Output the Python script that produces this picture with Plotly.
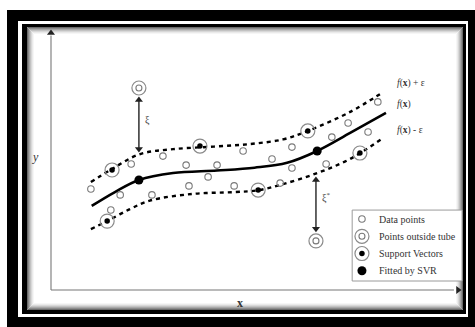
import plotly.graph_objects as go

W, H = 475, 327

# Regression function f(x)
f_x = [1.00, 1.57, 2.16, 3.00, 4.08, 5.00, 5.80, 6.54, 7.35, 8.23]
f_y = [3.27, 3.81, 4.28, 4.55, 4.65, 4.76, 4.95, 5.41, 6.11, 6.89]

# Upper tube edge f(x) + eps
up_x = [0.98, 1.50, 2.19, 3.00, 4.00, 4.89, 5.70, 6.31, 7.35, 8.13]
up_y = [4.20, 4.71, 5.29, 5.48, 5.58, 5.68, 5.86, 6.19, 6.93, 7.67]

# Lower tube edge f(x) - eps
lo_x = [0.98, 1.38, 1.94, 2.43, 3.49, 4.50, 5.09, 5.70, 6.54, 7.35, 8.13]
lo_y = [2.37, 2.68, 3.15, 3.48, 3.74, 3.81, 3.88, 4.12, 4.55, 5.10, 5.88]

# Ordinary data points inside the tube
data_x = [0.98, 1.97, 2.75, 1.70, 1.47, 3.32, 4.08, 3.86, 3.39, 2.48, 4.50,
          4.72, 5.92, 6.90, 7.30, 5.43, 5.92, 6.76, 5.63, 8.03, 7.79]
data_y = [3.93, 4.90, 5.21, 3.70, 3.11, 4.86, 4.86, 4.40, 4.05, 3.70, 4.05,
          5.41, 5.56, 5.95, 6.50, 5.10, 4.75, 4.90, 4.16, 7.32, 6.15]

# Support vectors (on the tube boundary)
sv_x = [1.50, 1.38, 3.66, 5.09, 6.31, 7.59]
sv_y = [4.67, 2.68, 5.60, 3.89, 6.19, 5.33]

# Points lying outside the tube
out_x = [2.16, 6.51]
out_y = [7.86, 1.91]

# Points fitted by SVR
fit_x = [2.16, 6.54]
fit_y = [4.28, 5.41]

# Slack arrows: x, top, bottom, label position, label
slack_x = [2.16, 6.51]
slack_top = [7.51, 4.40]
slack_bot = [5.37, 2.26]
slack_lbl_x = [2.38, 6.76]
slack_lbl_y = [6.61, 3.58]
slack_lbl = ["ξ", "ξ<sup>*</sup>"]

# Curve labels
curve_lbl = ["<i>f</i>(<b>x</b>) + ε", "<i>f</i>(<b>x</b>)", "<i>f</i>(<b>x</b>) - ε"]
curve_lbl_y = [8.05, 7.20, 6.19]
curve_lbl_x = 8.45

legend_labels = ["Data points", "Points outside tube", "Support Vectors", "Fitted by SVR"]

SERIF = "Liberation Serif"
RING = "#8a8a8a"
AXIS = "#777777"

fig = go.Figure()

def marks(xs, ys, symbol, size, color, width=0):
    fig.add_trace(go.Scatter(x=xs, y=ys, mode="markers",
                             marker=dict(symbol=symbol, size=size, color=color,
                                         line=dict(width=width, color=color)),
                             hoverinfo="skip", showlegend=False, cliponaxis=False))

def segment(x0, y0, x1, y1, color, width):
    fig.add_trace(go.Scatter(x=[x0, x1], y=[y0, y1], mode="lines",
                             line=dict(color=color, width=width),
                             hoverinfo="skip", showlegend=False, cliponaxis=False))

# coordinate axes with arrowheads
segment(0, 0, 9.9, 0, AXIS, 1.1)
segment(0, 0, 0, 9.9, AXIS, 1.1)
marks([10], [0], "triangle-right", 7, "#222")
marks([0], [10], "triangle-up", 7, "#222")

# tube edges
for xs, ys in [(up_x, up_y), (lo_x, lo_y)]:
    fig.add_trace(go.Scatter(x=xs, y=ys, mode="lines", line_shape="spline",
                             line=dict(color="black", width=2.4, dash="4px,4px"),
                             hoverinfo="skip", showlegend=False))
# regression curve
fig.add_trace(go.Scatter(x=f_x, y=f_y, mode="lines", line_shape="spline",
                         line=dict(color="black", width=2.6),
                         hoverinfo="skip", showlegend=False))

# slack arrows
for sx, st, sb in zip(slack_x, slack_top, slack_bot):
    segment(sx, sb + 0.12, sx, st - 0.12, "#222", 1.4)
    marks([sx], [st - 0.12], "triangle-up", 7, "#222")
    marks([sx], [sb + 0.12], "triangle-down", 7, "#222")

# data points
marks(data_x, data_y, "circle-open", 6.5, "#7a7a7a", 1.1)
# points outside tube
marks(out_x, out_y, "circle-open", 14, RING, 1.2)
marks(out_x, out_y, "circle-open", 6, "#7a7a7a", 1.1)
# support vectors
marks(sv_x, sv_y, "circle-open", 14, RING, 1.2)
marks(sv_x, sv_y, "circle", 5.5, "black")
# fitted points
marks(fit_x, fit_y, "circle", 9, "black")

# legend symbols
leg_x0, leg_y0, leg_dy = 7.64, 2.76, 0.67
leg_y = [leg_y0 - i * leg_dy for i in range(len(legend_labels))]
marks([leg_x0], [leg_y[0]], "circle-open", 6.5, "#7a7a7a", 1.1)
marks([leg_x0], [leg_y[1]], "circle-open", 14, RING, 1.2)
marks([leg_x0], [leg_y[1]], "circle-open", 6, "#7a7a7a", 1.1)
marks([leg_x0], [leg_y[2]], "circle-open", 14, RING, 1.2)
marks([leg_x0], [leg_y[2]], "circle", 5.5, "black")
marks([leg_x0], [leg_y[3]], "circle", 9, "black")

def P(x, y):
    return x / W, 1 - y / H

shapes = []
def prect(x0, y0, x1, y1, fill=None, line=None, lw=0, layer="below"):
    a, b = P(x0, y0)
    c, d = P(x1, y1)
    shapes.append(dict(type="rect", xref="paper", yref="paper", x0=a, y0=d, x1=c, y1=b,
                       fillcolor=fill if fill else "rgba(0,0,0,0)",
                       line=dict(color=line if line else "rgba(0,0,0,0)", width=lw),
                       layer=layer))

# picture frame
prect(7, 10, 490, 340, fill="black")
prect(18, 21, 468, 317, fill="white")
prect(22, 24, 466, 314, fill="black")
prect(27, 27, 463, 310, fill="white")
# soft inner shadow
shade = ["#6a6a6a", "#8c8c8c", "#a8a8a8", "#c2c2c2", "#d8d8d8", "#eaeaea", "#f6f6f6"]
for i, c in enumerate(shade):
    prect(27 + i + 0.5, 27 + i + 0.5, 463 - i - 0.5, 310 - i - 0.5, line=c, lw=1)

# legend box
shapes.append(dict(type="rect", xref="x", yref="y", x0=7.40, x1=10.10, y0=0.35, y1=3.11,
                   fillcolor="white", line=dict(color="#9a9a9a", width=1), layer="below"))

annotations = []
for lx, ly, t in zip(slack_lbl_x, slack_lbl_y, slack_lbl):
    annotations.append(dict(x=lx, y=ly, xref="x", yref="y", text=t, showarrow=False,
                            font=dict(family=SERIF, size=10, color="#444")))
# curve labels
for t, ly in zip(curve_lbl, curve_lbl_y):
    annotations.append(dict(x=curve_lbl_x, y=ly, xref="x", yref="y", text=t, showarrow=False,
                            xanchor="left", font=dict(family=SERIF, size=9.5, color="#333")))
# legend labels
for t, ly in zip(legend_labels, leg_y):
    annotations.append(dict(x=8.01, y=ly, xref="x", yref="y", text=t, showarrow=False,
                            xanchor="left", font=dict(family=SERIF, size=10, color="#333")))
# axis titles
annotations.append(dict(x=-0.37, y=5.18, xref="x", yref="y", text="<i>y</i>", showarrow=False,
                        font=dict(family=SERIF, size=12, color="#333")))
annotations.append(dict(x=4.64, y=-0.51, xref="x", yref="y", text="<b>x</b>", showarrow=False,
                        font=dict(family=SERIF, size=12, color="#333")))

# axes span the whole figure: x=0 at px 51, x=10 at px 458; y=0 at py 290, y=10 at py 33
sx_ = 40.7
sy_ = 25.7
xr = [-51 / sx_, (W - 51) / sx_]
yr = [-(H - 290) / sy_, 290 / sy_]

fig.update_layout(
    width=W, height=H, margin=dict(l=0, r=0, t=0, b=0),
    paper_bgcolor="white", plot_bgcolor="rgba(0,0,0,0)",
    xaxis=dict(range=xr, visible=False, domain=[0, 1], fixedrange=True),
    yaxis=dict(range=yr, visible=False, domain=[0, 1], fixedrange=True),
    shapes=shapes, annotations=annotations, showlegend=False,
)

fig.write_html("out.html")
